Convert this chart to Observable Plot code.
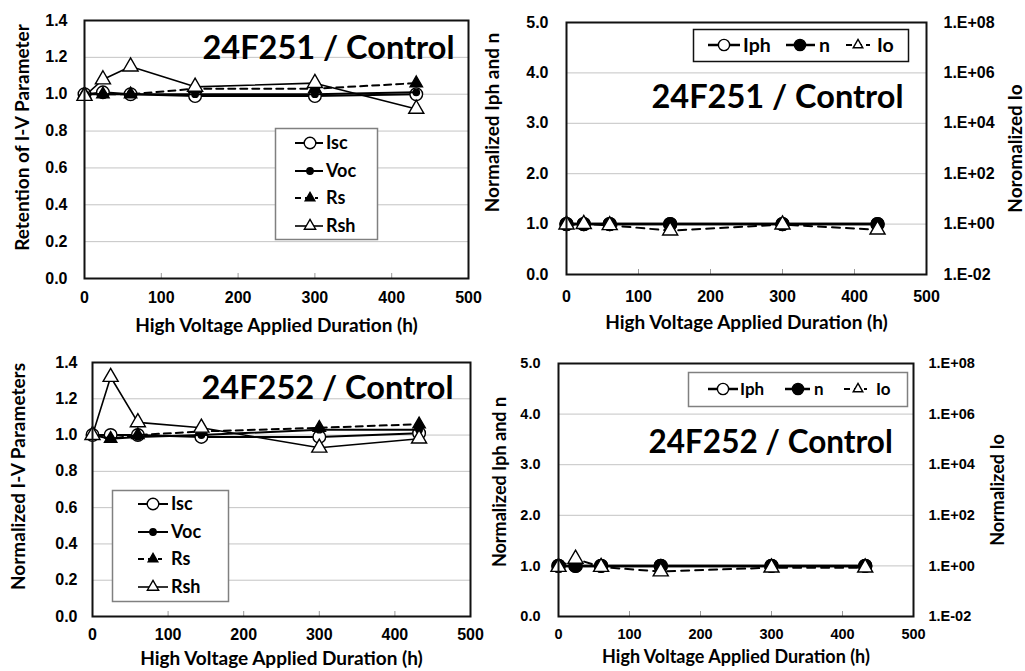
<!DOCTYPE html>
<html><head><meta charset="utf-8">
<script src="https://cdn.jsdelivr.net/npm/d3@7"></script>
<script src="https://cdn.jsdelivr.net/npm/@observablehq/plot@0.6"></script>
<style>
html,body{margin:0;padding:0;background:#fff;}
#root{position:relative;width:1025px;height:671px;overflow:hidden;background:#fff;}
#root > svg{position:absolute;}
</style></head><body><div id="root"></div>
<script>
// ---------------- data ----------------
const hours = [0, 24, 60, 144, 300, 432];
const xTicks = [0, 100, 200, 300, 400, 500];
const ivTicks = [0, 0.2, 0.4, 0.6, 0.8, 1.0, 1.2, 1.4];
const normTicks = [0, 1, 2, 3, 4, 5];
const ioTickValues = [1e-2, 1e0, 1e2, 1e4, 1e6, 1e8];
const ioTickLabels = ["1.E-02", "1.E+00", "1.E+02", "1.E+04", "1.E+06", "1.E+08"];

// 24F251 / Control
const f251Isc = [1.00, 1.01, 1.00, 0.99, 0.99, 1.00];
const f251Voc = [1.00, 1.00, 1.00, 1.00, 1.00, 1.01];
const f251Rs  = [1.00, 1.00, 1.00, 1.03, 1.03, 1.06];
const f251Rsh = [0.99, 1.08, 1.15, 1.04, 1.06, 0.92];
const f251Iph = [1.00, 1.00, 1.00, 1.00, 1.00, 1.00];
const f251n   = [1.00, 1.00, 1.00, 1.00, 1.00, 1.00];
const f251Io  = [0.95, 1.00, 0.90, 0.55, 0.95, 0.60];
// 24F252 / Control
const f252Isc = [1.00, 1.00, 1.00, 0.99, 0.99, 1.01];
const f252Voc = [1.00, 0.98, 0.99, 1.00, 1.03, 1.03];
const f252Rs  = [1.00, 0.98, 1.00, 1.02, 1.04, 1.06];
const f252Rsh = [1.00, 1.32, 1.07, 1.04, 0.93, 0.98];
const f252Iph = [1.00, 1.00, 1.00, 1.00, 1.00, 1.00];
const f252n   = [1.00, 1.00, 1.00, 1.00, 1.00, 1.00];
const f252Io  = [0.90, 1.90, 0.90, 0.60, 0.85, 0.85];

const xTitle = "High Voltage Applied Duration (h)";

// ---------------- styles ----------------
const ivStyle = {
  Isc: {symbol: "circle",   fill: "#fff", r: 6.3, sw: 2,   dash: null,  lr: 5.8},
  Voc: {symbol: "circle",   fill: "#000", r: 3.2, sw: 2,   dash: null,  lr: 3.2},
  Rs:  {symbol: "triangle", fill: "#000", r: 4.6, sw: 2,   dash: "7,5", lr: 4.6},
  Rsh: {symbol: "triangle", fill: "#fff", r: 5.6, sw: 1.6, dash: null,  lr: 5.4}
};
const fitStyle = {
  Iph: {symbol: "circle",   fill: "#fff", r: 6.5, sw: 2.5, dash: null,  lr: 5.6},
  n:   {symbol: "circle",   fill: "#000", r: 6.5, sw: 2.5, dash: null,  lr: 5.6},
  Io:  {symbol: "triangle", fill: "#fff", r: 5.6, sw: 2,   dash: "8,6", lr: 4.6}
};
const TITLE_FONT = "Lato, 'Open Sans', sans-serif";
const TICK_FONT = "'Liberation Sans', Arial, sans-serif";

const ioToLeft = d3.scaleLog().domain([ioTickValues[0], ioTickValues[ioTickValues.length - 1]]).range([0, 5]);

const root = document.getElementById("root");

function panel(cfg) {
  const ph = cfg.height - cfg.mt - cfg.mb;
  const marks = [
    Plot.ruleY(cfg.yTicks.slice(1, -1), {y: d => d, stroke: "#c4c4c4", strokeWidth: 1}),
    Plot.tickX(xTicks.slice(1, -1), {x: d => d, insetTop: ph - 5, stroke: "#9a9a9a", strokeWidth: 1})
  ];
  for (const s of cfg.series) {
    const st = cfg.styles[s.name];
    const rows = s.values.map((v, i) => ({h: hours[i], v: s.map ? s.map(v) : v}));
    const lineOpts = {x: "h", y: "v", stroke: "#000", strokeWidth: st.sw};
    if (st.dash) lineOpts.strokeDasharray = st.dash;
    marks.push(Plot.line(rows, lineOpts));
    marks.push(Plot.dot(rows, {x: "h", y: "v", symbol: st.symbol, r: st.r, fill: st.fill, stroke: "#000", strokeWidth: 1.4}));
  }
  marks.push(Plot.frame({stroke: "#111", strokeWidth: 2}));
  marks.push(Plot.axisY(cfg.yTicks, {tickSize: 0, tickPadding: cfg.ytp, tickFormat: d3.format(".1f"), label: null, fontSize: cfg.tickFs}));
  marks.push(Plot.axisX(xTicks, {tickSize: 0, tickPadding: cfg.xtp, tickFormat: d => String(d), label: null, fontSize: cfg.tickFs}));
  if (cfg.right) {
    const pos = ioTickValues.map(v => ioToLeft(v));
    marks.push(Plot.axisY(pos, {anchor: "right", tickSize: 0, tickPadding: cfg.right.tp, label: null, fontSize: cfg.tickFs,
      tickFormat: d => ioTickLabels[pos.indexOf(d)]}));
    marks.push(Plot.text([cfg.right.label], {text: d => d, frameAnchor: "right", textAnchor: "middle", rotate: -90, dx: cfg.right.dx, dy: cfg.right.dy,
      fontFamily: TITLE_FONT, fontWeight: "bold", fontSize: cfg.labelFs, fill: "#000"}));
  }
  // chart title
  marks.push(Plot.text([cfg.title], {text: d => d, frameAnchor: "top-left", textAnchor: "start", lineAnchor: "middle",
    dx: cfg.tdx, dy: cfg.tdy, fontFamily: TITLE_FONT, fontWeight: "bold", fontSize: cfg.titleFs, fill: "#000"}));
  // y title
  marks.push(Plot.text([cfg.yLabel], {text: d => d, frameAnchor: "left", textAnchor: "middle", rotate: -90, dx: cfg.ydx, dy: cfg.ydy,
    fontFamily: TITLE_FONT, fontWeight: "bold", fontSize: cfg.labelFs, fill: "#000"}));
  // x title
  marks.push(Plot.text([xTitle], {text: d => d, frameAnchor: "bottom", textAnchor: "middle", lineAnchor: "middle", dy: cfg.xdy,
    fontFamily: TITLE_FONT, fontWeight: "bold", fontSize: cfg.labelFs, fill: "#000"}));

  const svg = Plot.plot({
    width: cfg.width, height: cfg.height,
    marginTop: cfg.mt, marginRight: cfg.mr, marginBottom: cfg.mb, marginLeft: cfg.ml,
    x: {domain: [0, 500]},
    y: {domain: cfg.yDomain},
    style: {background: "transparent", overflow: "visible", fontFamily: TICK_FONT, fontWeight: "bold", fontSize: cfg.tickFs + "px", color: "#000"},
    marks
  });
  svg.style.position = "absolute";
  svg.style.left = cfg.left + "px";
  svg.style.top = cfg.top + "px";
  svg.style.maxWidth = "none";
  root.appendChild(svg);
}

panel({
  left: 0, top: 0, width: 478, height: 335, mt: 20, mr: 10, mb: 57, ml: 84,
  yDomain: [0, 1.4], yTicks: ivTicks, ytp: 17, xtp: 13, tickFs: 16, styles: ivStyle,
  series: [{name: "Isc", values: f251Isc}, {name: "Voc", values: f251Voc}, {name: "Rs", values: f251Rs}, {name: "Rsh", values: f251Rsh}],
  title: "24F251 / Control", tdx: 118, tdy: 28, titleFs: 32.5,
  yLabel: "Retention of I-V Parameter", ydx: -62, ydy: -12, labelFs: 19, xdy: 47
});
panel({
  left: 478, top: 0, width: 547, height: 335, mt: 22, mr: 99, mb: 61, ml: 88,
  yDomain: [0, 5], yTicks: normTicks, ytp: 18, xtp: 16, tickFs: 16, styles: fitStyle,
  series: [{name: "Iph", values: f251Iph}, {name: "n", values: f251n}, {name: "Io", values: f251Io, map: ioToLeft}],
  right: {tp: 17, label: "Noromalized Io", dx: 89, dy: 0},
  title: "24F251 / Control", tdx: 85, tdy: 75, titleFs: 32.5,
  yLabel: "Normalized Iph and n", ydx: -74, ydy: -26, labelFs: 19, xdy: 48
});
panel({
  left: 0, top: 335, width: 478, height: 336, mt: 27, mr: 8, mb: 55, ml: 92,
  yDomain: [0, 1.4], yTicks: ivTicks, ytp: 15, xtp: 12, tickFs: 16, styles: ivStyle,
  series: [{name: "Isc", values: f252Isc}, {name: "Voc", values: f252Voc}, {name: "Rs", values: f252Rs}, {name: "Rsh", values: f252Rsh}],
  title: "24F252 / Control", tdx: 109, tdy: 26, titleFs: 32.5,
  yLabel: "Normalized I-V Parameters", ydx: -74, ydy: -13, labelFs: 19, xdy: 42
});
panel({
  left: 478, top: 335, width: 547, height: 336, mt: 28, mr: 112, mb: 55, ml: 80,
  yDomain: [0, 5], yTicks: normTicks, ytp: 18, xtp: 12, tickFs: 14.5, styles: fitStyle,
  series: [{name: "Iph", values: f252Iph}, {name: "n", values: f252n}, {name: "Io", values: f252Io, map: ioToLeft}],
  right: {tp: 15, label: "Normalized Io", dx: 85, dy: 0},
  title: "24F252 / Control", tdx: 90, tdy: 79, titleFs: 31.5,
  yLabel: "Normalized Iph and n", ydx: -58, ydy: -8, labelFs: 18, xdy: 41
});

// ---------------- legends ----------------
const legends = [
  {box: [275, 128, 377, 239], stroke: "#808080", styles: ivStyle, fs: 18, items: [
    {name: "Isc", y: 143, x1: 295, x2: 323, mx: 310, tx: 326},
    {name: "Voc", y: 171, x1: 295, x2: 323, mx: 310, tx: 326},
    {name: "Rs",  y: 198, x1: 295, x2: 318, mx: 310, tx: 326},
    {name: "Rsh", y: 226, x1: 295, x2: 323, mx: 310, tx: 326}]},
  {box: [693, 29, 908, 61], stroke: "#111", styles: fitStyle, fs: 19.5, items: [
    {name: "Iph", y: 45, x1: 708, x2: 740, mx: 724, tx: 743},
    {name: "n",   y: 45, x1: 786, x2: 815, mx: 800, tx: 819},
    {name: "Io",  y: 45, x1: 846, x2: 870, mx: 858, tx: 877}]},
  {box: [112, 490, 228, 601], stroke: "#808080", styles: ivStyle, fs: 18, items: [
    {name: "Isc", y: 504, x1: 138, x2: 168, mx: 153, tx: 171},
    {name: "Voc", y: 532, x1: 138, x2: 168, mx: 153, tx: 171},
    {name: "Rs",  y: 559, x1: 138, x2: 162, mx: 153, tx: 171},
    {name: "Rsh", y: 587, x1: 138, x2: 168, mx: 153, tx: 171}]},
  {box: [688, 372, 907, 406], stroke: "#808080", styles: fitStyle, fs: 17, items: [
    {name: "Iph", y: 389, x1: 708, x2: 738, mx: 723, tx: 740},
    {name: "n",   y: 389, x1: 785, x2: 810, mx: 798, tx: 814},
    {name: "Io",  y: 389, x1: 844, x2: 867, mx: 858, tx: 876}]}
];

const ov = d3.select(root).append("svg").attr("width", 1025).attr("height", 671)
  .style("left", "0px").style("top", "0px").style("pointer-events", "none");
for (const lg of legends) {
  const [x0, y0, x1, y1] = lg.box;
  ov.append("rect").attr("x", x0 + 0.5).attr("y", y0 + 0.5).attr("width", x1 - x0).attr("height", y1 - y0)
    .attr("fill", "#fff").attr("stroke", lg.stroke).attr("stroke-width", 1.5);
  for (const it of lg.items) {
    const st = lg.styles[it.name];
    ov.append("line").attr("x1", it.x1).attr("x2", it.x2).attr("y1", it.y).attr("y2", it.y)
      .attr("stroke", "#000").attr("stroke-width", st.sw).attr("stroke-dasharray", st.dash ? "6,4" : null);
    const sym = st.symbol === "circle" ? d3.symbolCircle : d3.symbolTriangle2;
    ov.append("path").attr("d", d3.symbol(sym, st.lr * st.lr * Math.PI)())
      .attr("transform", `translate(${it.mx},${it.y})`)
      .attr("fill", st.fill).attr("stroke", "#000").attr("stroke-width", 1.4);
    ov.append("text").attr("x", it.tx).attr("y", it.y).attr("dy", "0.35em")
      .attr("font-family", TITLE_FONT).attr("font-weight", "bold").attr("font-size", lg.fs)
      .text(it.name);
  }
}
</script></body></html>
